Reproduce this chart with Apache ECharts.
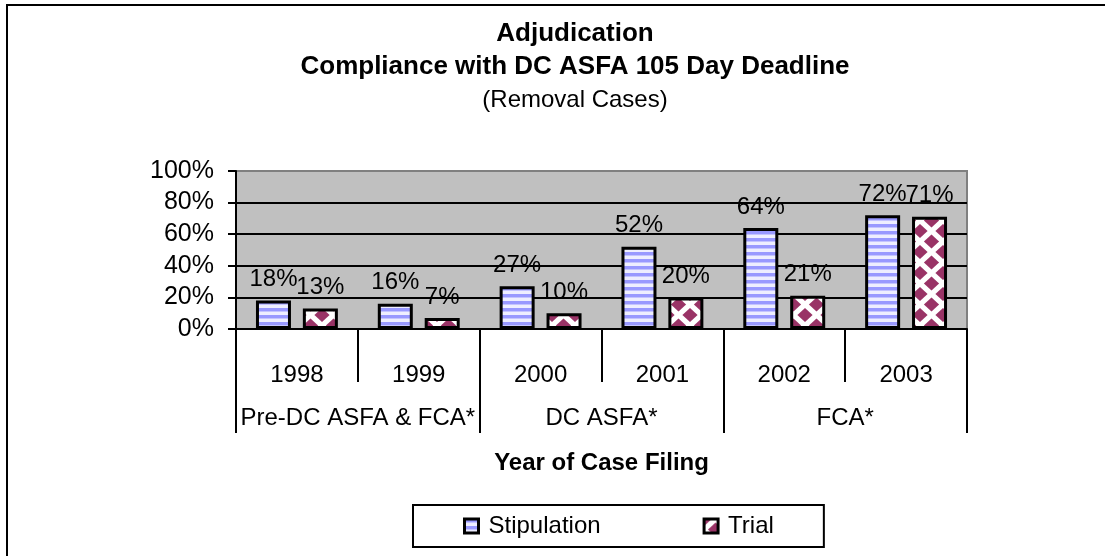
<!DOCTYPE html>
<html>
<head>
<meta charset="utf-8">
<script src="https://cdn.jsdelivr.net/npm/echarts@6/dist/echarts.min.js"></script>
<style>
  html, body { margin: 0; padding: 0; background: #fff; }
  #chart { width: 1105px; height: 556px; }
</style>
</head>
<body>
<div id="chart"></div>
<script>
const years = ['1998', '1999', '2000', '2001', '2002', '2003']
const periods = ['Pre-DC ASFA & FCA*', 'DC ASFA*', 'FCA*']
const stipulation = [18, 16, 27, 52, 64, 72]
const trial = [13, 7, 10, 20, 21, 71]
const yTicks = [0, 20, 40, 60, 80, 100]

const FONT = "'Liberation Sans', Arial, sans-serif"

// horizontal blue stripes
function stripeTile() {
  const c = document.createElement('canvas')
  c.width = 8
  c.height = 7
  const ctx = c.getContext('2d')
  ctx.fillStyle = '#eeeeff'
  ctx.fillRect(0, 0, 8, 7)
  ctx.fillStyle = '#9999ff'
  ctx.fillRect(0, 0, 8, 3)
  ctx.fillStyle = '#c4c4ff'
  ctx.fillRect(0, 3, 8, 1)
  return c
}

// staggered maroon diamonds on white
function diamondTile() {
  const w = 23
  const h = 21
  const c = document.createElement('canvas')
  c.width = w
  c.height = h
  const ctx = c.getContext('2d')
  ctx.fillStyle = '#ffffff'
  ctx.fillRect(0, 0, w, h)
  ctx.fillStyle = '#993366'
  const rx = 7.6
  const ry = 7
  const centers = [[0, 0], [w, 0], [0, h], [w, h], [w / 2, h / 2]]
  centers.forEach(p => {
    ctx.beginPath()
    ctx.moveTo(p[0] - rx, p[1])
    ctx.lineTo(p[0], p[1] - ry)
    ctx.lineTo(p[0] + rx, p[1])
    ctx.lineTo(p[0], p[1] + ry)
    ctx.closePath()
    ctx.fill()
  })
  return c
}

const chart = echarts.init(document.getElementById('chart'))

const labelOpt = {
  show: true,
  position: 'top',
  distance: 9,
  color: '#000',
  fontSize: 24,
  fontFamily: FONT,
  formatter: '{c}%'
}

chart.setOption({
  backgroundColor: '#ffffff',
  animation: false,
  textStyle: { fontFamily: FONT },
  title: [{
    text: 'Adjudication\nCompliance with DC ASFA 105 Day Deadline',
    left: 575,
    top: 17,
    textAlign: 'center',
    padding: 0,
    textStyle: { fontSize: 26, fontWeight: 'bold', color: '#000', fontFamily: FONT, lineHeight: 33 }
  }, {
    text: '(Removal Cases)',
    left: 575,
    top: 84,
    textAlign: 'center',
    padding: 0,
    textStyle: { fontSize: 24, fontWeight: 'normal', color: '#000', fontFamily: FONT, lineHeight: 33 }
  }],
  graphic: [{
    type: 'rect',
    shape: { x: 7, y: 5, width: 1120, height: 580 },
    style: { fill: 'none', stroke: '#000', lineWidth: 2 },
    silent: true
  }],
  legend: {
    data: ['Stipulation', 'Trial'],
    left: 413,
    top: 505,
    padding: [9, 50],
    itemGap: 102,
    itemWidth: 14,
    itemHeight: 14,
    borderColor: '#000',
    borderWidth: 2,
    icon: 'rect',
    itemStyle: { borderColor: '#000', borderWidth: 3 },
    textStyle: { fontSize: 24, color: '#000', fontFamily: FONT, padding: [0, 0, 0, 5] }
  },
  grid: {
    left: 236,
    right: 138,
    top: 171,
    bottom: 227,
    show: true,
    backgroundColor: '#c0c0c0',
    borderColor: '#808080',
    borderWidth: 2
  },
  xAxis: [{
    type: 'category',
    data: years,
    position: 'bottom',
    axisLine: { show: true, lineStyle: { color: '#000', width: 2 } },
    axisTick: { show: true, interval: 0, length: 53, lineStyle: { color: '#000', width: 2 } },
    axisLabel: { interval: 0, margin: 34, fontSize: 24, color: '#000', fontFamily: FONT }
  }, {
    type: 'category',
    data: periods,
    position: 'bottom',
    name: 'Year of Case Filing',
    nameLocation: 'middle',
    nameGap: 122,
    nameTextStyle: { fontSize: 24, fontWeight: 'bold', color: '#000', fontFamily: FONT },
    axisLine: { show: false },
    axisTick: { show: true, interval: 0, length: 104, lineStyle: { color: '#000', width: 2 } },
    axisLabel: { interval: 0, margin: 77, fontSize: 24, color: '#000', fontFamily: FONT }
  }],
  yAxis: {
    type: 'value',
    min: yTicks[0],
    max: yTicks[yTicks.length - 1],
    interval: 20,
    axisLine: { show: true, lineStyle: { color: '#000', width: 2 } },
    axisTick: { show: true, length: 8, lineStyle: { color: '#000', width: 2 } },
    axisLabel: { margin: 22, fontSize: 25, color: '#000', fontFamily: FONT, formatter: '{value}%' },
    splitLine: { show: true, lineStyle: { color: ['#000', '#000', '#000', '#000', '#000', '#808080'], width: 2 } }
  },
  series: [{
    name: 'Stipulation',
    type: 'bar',
    xAxisIndex: 0,
    data: stipulation,
    barWidth: 35,
    barGap: '34%',
    itemStyle: {
      color: { image: stripeTile(), repeat: 'repeat' },
      borderColor: '#000',
      borderWidth: 3
    },
    label: labelOpt
  }, {
    name: 'Trial',
    type: 'bar',
    xAxisIndex: 0,
    data: trial,
    barWidth: 35,
    barGap: '34%',
    itemStyle: {
      color: { image: diamondTile(), repeat: 'repeat' },
      borderColor: '#000',
      borderWidth: 3
    },
    label: labelOpt
  }]
})
</script>
</body>
</html>
